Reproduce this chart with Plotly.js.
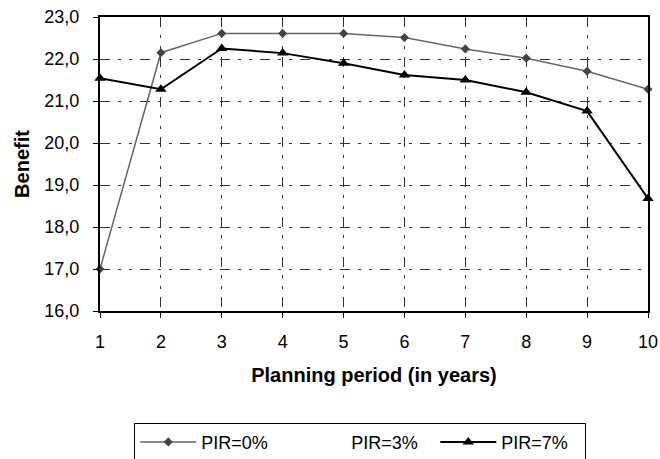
<!DOCTYPE html>
<html><head><meta charset="utf-8">
<script src="https://cdn.plot.ly/plotly-3.0.1.min.js"></script>
<style>html,body{margin:0;padding:0;background:#fff}#c{width:660px;height:459px}</style>
</head><body><div id="c"></div>
<script>
const years = [1,2,3,4,5,6,7,8,9,10];
const pir0 = [17.0,22.15,22.61,22.61,22.61,22.51,22.24,22.02,21.71,21.28];
// PIR=3% is drawn in white in the original (not visible); its values cannot be read
const pir3 = [null,null,null,null,null,null,null,null,null,null];
const pir7 = [21.54,21.28,22.25,22.14,21.90,21.62,21.50,21.21,20.76,18.68];
const yTicks = [16,17,18,19,20,21,22,23];

const font = {family:'"Liberation Sans", Arial, sans-serif', color:'#000'};
const f = (s) => Object.assign({size:s}, font);
const data = [
 {x:years,y:pir0,name:'PIR=0%',mode:'lines+markers',cliponaxis:false,
  line:{color:'#666',width:1.5},marker:{symbol:'diamond',size:7,color:'#444'}},
 {x:years,y:pir3,name:'PIR=3%',mode:'lines+markers',
  line:{color:'#fff',width:2},marker:{symbol:'square',size:6,color:'#fff'}},
 {x:years,y:pir7,name:'PIR=7%',mode:'lines+markers',cliponaxis:false,
  line:{color:'#000',width:2},marker:{symbol:'triangle-up',size:10,color:'#000'}}
];
const gd = '10px,8px,3px,8px,3px,8px';
const layout = {
 width:660,height:459,
 margin:{l:100,r:12,t:17,b:148,autoexpand:false},
 paper_bgcolor:'#fff',plot_bgcolor:'#fff',
 font:f(18),
 separators:',.',
 showlegend:true,
 legend:{orientation:'h',x:0.475,xanchor:'center',y:-0.38,yanchor:'top',
   bordercolor:'#000',borderwidth:1,font:f(18),
   entrywidth:79,entrywidthmode:'pixels',itemwidth:56},
 xaxis:{range:[1,10],tickvals:years,showline:true,linewidth:2,linecolor:'#000',mirror:true,
   ticks:'outside',ticklen:5,tickcolor:'#000',showgrid:true,gridcolor:'#333',gridwidth:1,griddash:gd,
   zeroline:false,tickfont:f(18),ticklabelstandoff:8,
   title:{text:'<b>Planning period (in years)</b>',font:f(20),standoff:17}},
 yaxis:{range:[16,23],tickvals:yTicks,tickformat:'.1f',showline:true,linewidth:2,linecolor:'#000',mirror:true,
   ticks:'outside',ticklen:5,tickcolor:'#000',showgrid:true,gridcolor:'#333',gridwidth:1,griddash:gd,
   zeroline:false,tickfont:f(18),ticklabelstandoff:10,
   title:{text:'<b>Benefit</b>',font:f(20),standoff:9}}
};
Plotly.newPlot('c',data,layout,{displayModeBar:false,staticPlot:true});
</script></body></html>
